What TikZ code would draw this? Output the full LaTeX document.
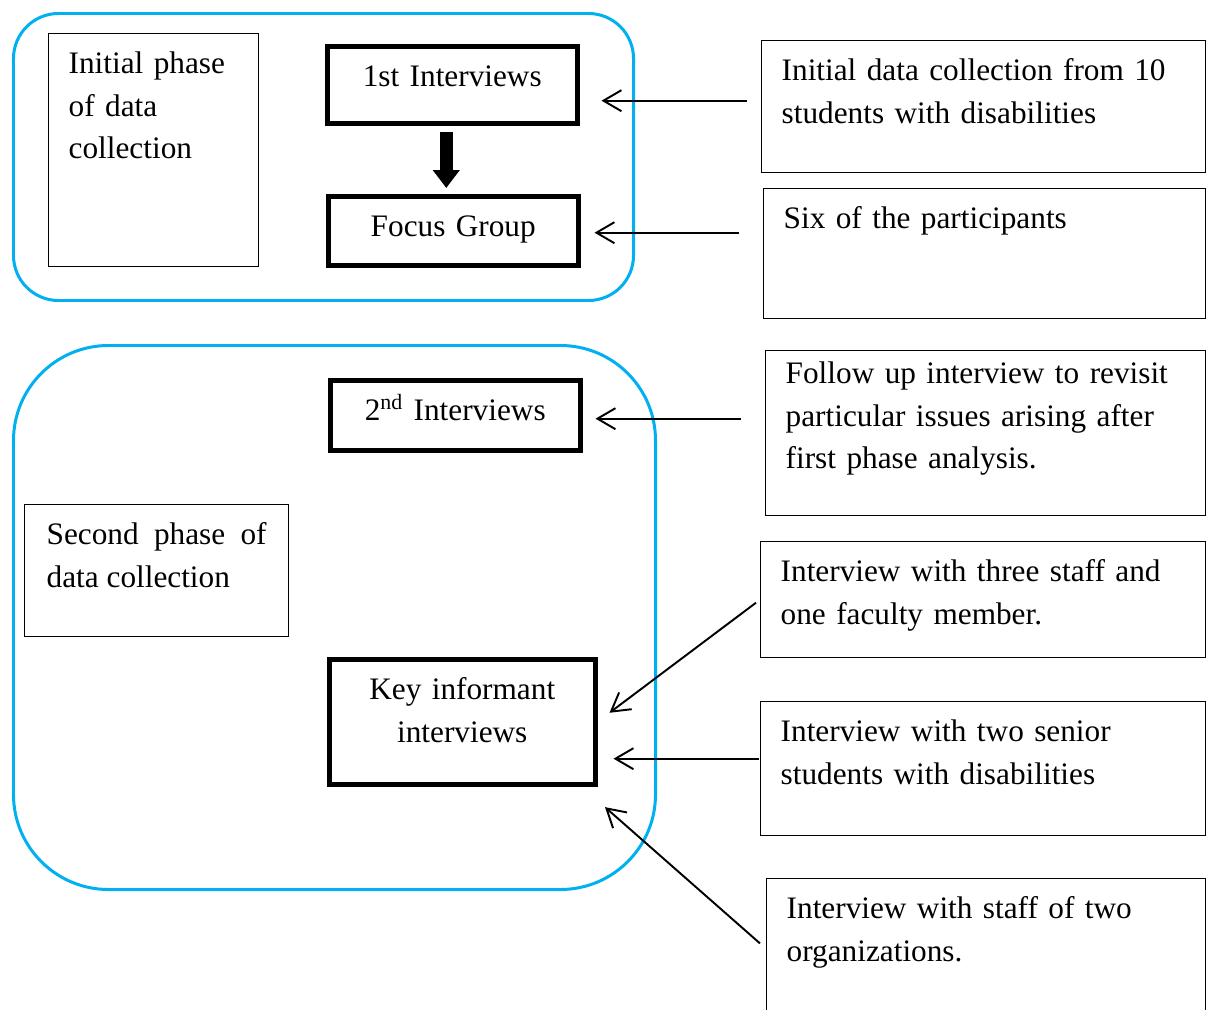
\documentclass[tikz,border=0pt]{standalone}
\usepackage{fontspec}
\setmainfont{Liberation Serif}
\usetikzlibrary{arrows.meta}
\definecolor{phaseblue}{RGB}{0,176,240}

\begin{document}
\begin{tikzpicture}[
  x=0.02cm, y=-0.02cm,
  every node/.style={font=\fontsize{17.8}{24.2}\selectfont, anchor=north west},
  note/.style={draw, line width=0.8pt, align=left, inner xsep=0.4cm, inner ysep=0.35cm, text height=0.45cm},
  stage/.style={draw, line width=2.6pt, align=center, inner xsep=0.2cm, inner ysep=0.33cm, text height=0.48cm},
  phase/.style={draw=phaseblue, line width=1.7pt},
  arr/.style={line width=1.1pt, -{Straight Barb[length=0.36cm,width=0.42cm]}},
  bigarr/.style={line width=0.26cm, -{Triangle[length=0.36cm,width=0.52cm]}}
]
\useasboundingbox (0,0) rectangle (1206,1010);

% the two phases
\draw[phase, rounded corners=0.9cm] (13.5,13.5) rectangle (633.5,300.5);
\draw[phase, rounded corners=1.9cm] (13.5,345.5) rectangle (655.5,889.5);

\node (phase1) [note, text width=3.4cm, text depth=3.51cm] at (48,33) {Initial phase\\of data\\collection};
\node (phase2) [note, align=justify, inner xsep=0.44cm, text width=4.4cm, text depth=1.49cm] at (24,504) {Second phase of data collection};

% stages
\node (int1) [stage, text width=4.6cm, text depth=0.40cm] at (325,44) {1st Interviews};
\node (focus) [stage, text width=4.6cm, text depth=0.24cm] at (326,194) {Focus Group};
\node (int2) [stage, text width=4.6cm, text depth=0.26cm] at (328,378) {2\textsuperscript{nd} Interviews};
\node (key) [stage, text width=4.92cm, text depth=1.36cm] at (327,657) {Key informant\\interviews};

% notes on the right
\node (r1) [note, text width=8.08cm, text depth=1.49cm] at (761,40) {Initial data collection from 10\\students with disabilities};
\node (r2) [note, text width=8.04cm, text depth=1.45cm] at (763,188) {Six of the participants};
\node (r3) [note, inner ysep=0.21cm, text width=8.0cm, text depth=2.43cm] at (765,350) {Follow up interview to revisit\\particular issues arising after\\first phase analysis.};
\node (r4) [note, text width=8.1cm, text depth=1.17cm] at (760,541) {Interview with three staff and\\one faculty member.};
\node (r5) [note, text width=8.1cm, text depth=1.53cm] at (760,701) {Interview with two senior\\students with disabilities};
\node (r6) [note, text width=7.98cm, text depth=1.65cm] at (766,878) {Interview with staff of two\\organizations.};

% arrows
\coordinate (d1) at ([xshift=-0.12cm]int1.south);
\draw[bigarr, shorten <=0.12cm, shorten >=0.12cm] (d1) -- (d1 |- focus.north);

\coordinate (a1) at ([yshift=0.12cm]r1.west);
\coordinate (a2) at ([yshift=0.42cm]r2.west);
\coordinate (a3) at ([yshift=0.29cm]r3.west);
\coordinate (a5) at ([yshift=0.2cm]r5.west);
\draw[arr, shorten <=0.29cm, shorten >=0.44cm] (a1) -- (a1 -| int1.east);
\draw[arr, shorten <=0.49cm, shorten >=0.28cm] (a2) -- (a2 -| focus.east);
\draw[arr, shorten <=0.49cm, shorten >=0.26cm] (a3) -- (a3 -| int2.east);
\draw[arr, shorten <=0.1cm, shorten >=0.3cm] (r4.west) -- (key.east);
\draw[arr, shorten <=0.03cm, shorten >=0.32cm] (a5) -- (a5 -| key.east);
\draw[arr, shorten <=0.16cm, shorten >=0.2cm] (r6.west) -- ([yshift=-0.28cm]key.south east);
\end{tikzpicture}
\end{document}
